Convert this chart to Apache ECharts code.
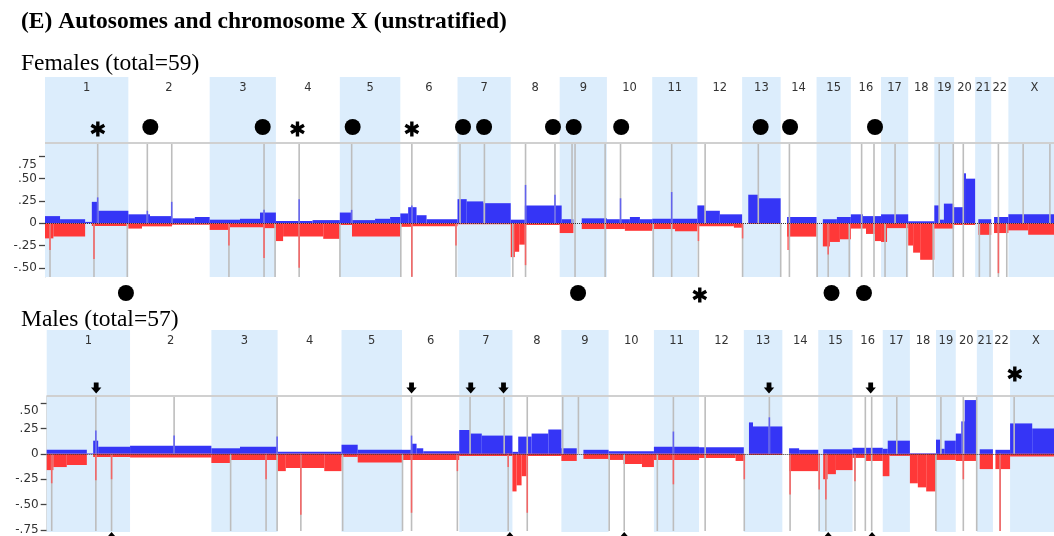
<!DOCTYPE html>
<html><head><meta charset="utf-8">
<script src="https://cdn.jsdelivr.net/npm/echarts@6/dist/echarts.min.js"></script>
<style>html,body{margin:0;padding:0;background:#fff}#c{width:1054px;height:536px}</style>
</head><body><div id="c"></div>
<script>
// ---------------- DATA ----------------
const chromNames = ['1','2','3','4','5','6','7','8','9','10','11','12','13','14','15','16','17','18','19','20','21','22','X'];
// chromosome lengths (Mb)
const chromLengths = [249.25,243.2,198.0,191.15,180.9,171.1,159.1,146.4,141.2,135.5,135.0,133.85,115.2,107.35,102.5,90.35,81.2,78.1,59.1,63.0,48.1,51.3,155.27];
const yTicksFemales = [-0.5,-0.25,0,0.25,0.5,0.75];
const yTicksMales = [-0.75,-0.5,-0.25,0,0.25,0.5];

// segments: [start Mb, end Mb, frequency]
const femaleGain = [
 [0,45,0.08],[45,120,0.045],[120,140,0.015],[140,159,0.24],[159,249.25,0.14],
 [249.25,314,0.10],[314,380,0.08],[380,448,0.055],[448,492.45,0.07],
 [492.45,583,0.04],[583,643,0.05],[643,690.45,0.12],
 [690.45,800,0.025],[800,881.6,0.035],
 [881.6,918,0.12],[918,987,0.035],[987,1032,0.05],[1032,1062.5,0.07],
 [1062.5,1086,0.11],[1086,1111,0.18],[1111,1141,0.09],[1141,1233.6,0.045],
 [1233.6,1261,0.27],[1261,1311,0.245],[1311,1392.7,0.225],
 [1392.7,1435,0.04],[1435,1545,0.2],
 [1545,1580,0.045],[1605,1680.3,0.055],
 [1680.3,1749,0.045],[1749,1779,0.07],[1779,1815.8,0.045],
 [1815.8,1950.8,0.05],
 [1950.8,1973,0.2],[1973,2018,0.14],[2018,2084.65,0.1],
 [2103,2133,0.32],[2133,2199.85,0.28],
 [2219,2307.2,0.07],
 [2326,2368,0.045],[2368,2409.7,0.07],
 [2409.7,2446,0.1],[2446,2500.05,0.08],
 [2500.05,2581.25,0.1],
 [2581.25,2659.35,0.022],
 [2659.35,2673,0.2],[2673,2688,0.04],[2688,2718.45,0.22],
 [2718.45,2745,0.18],[2745,2754,0.56],[2754,2781.45,0.5],
 [2791,2829.55,0.045],
 [2838,2880.85,0.07],
 [2880.85,3036.12,0.1]
];
const femaleLoss = [
 [0,25,-0.17],[25,120,-0.15],[140,249.25,-0.03],
 [249.25,290,-0.06],[290,380,-0.035],[380,492.45,-0.018],
 [492.45,553,-0.075],[553,655,-0.045],[655,690.45,-0.055],
 [690.45,712,-0.2],[712,832,-0.15],[832,881.6,-0.175],
 [881.6,918,-0.02],[918,1062.5,-0.15],
 [1062.5,1096,-0.04],[1096,1233.6,-0.035],
 [1233.6,1392.7,-0.012],
 [1392.7,1405,-0.38],[1405,1418,-0.32],[1418,1435,-0.24],[1435,1539.1,-0.02],
 [1539.1,1580,-0.11],[1605,1680.3,-0.065],
 [1680.3,1734,-0.065],[1734,1815.8,-0.085],
 [1815.8,1884,-0.065],[1884,1950.8,-0.09],
 [1950.8,2060,-0.035],[2060,2084.65,-0.05],
 [2103,2199.85,-0.008],
 [2219,2307.2,-0.15],
 [2326,2347,-0.26],[2347,2377,-0.21],[2377,2409.7,-0.18],
 [2409.7,2455,-0.06],[2455,2482,-0.12],[2482,2500.05,-0.2],
 [2500.05,2518,-0.21],[2518,2581.25,-0.055],
 [2581.25,2596,-0.25],[2596,2617,-0.33],[2617,2659.35,-0.41],
 [2659.35,2718.45,-0.06],
 [2718.45,2781.45,-0.02],
 [2791,2829.55,-0.13],
 [2838,2880.85,-0.11],
 [2880.85,2940,-0.08],[2940,3036.12,-0.13]
];
// single-locus peaks: [Mb, frequency]
const femaleGainPeaks = [[157.6,0.29],[306,0.14],[379,0.24],[655,0.15],[760,0.27],[917,0.15],[1097,0.2],[1437,0.43],[1525,0.32],[1721,0.28],[1874,0.35]];
const femaleLossPeaks = [[15,-0.3],[146.5,-0.4],[550,-0.25],[655,-0.39],[760,-0.5],[1097,-0.6],[1229,-0.25],[1437,-0.47],[1954,-0.2],[2086,-0.17],[2222,-0.3],[2342,-0.35],[2851,-0.56]];
// significant loci (grey guide lines)
const femaleLinesGain = [157.6,306,379,917,1241,1314,1525,1576,1721,1974,2133,2542,2674,2925,3005];
const femaleLinesLoss = [15,146.5,246,550,688,882,1064,1229,1399,1819,1954,2086,2200,2309,2342,2405,2512,2577,2656,2794,2826,2876];
const femaleLinesBoth = [655,760,1097,1437,1585,1675,1874,2226,2442,2479,2716,2746,2851];
const femaleDotsAbove = [315,651,920,1250,1313,1519,1581,1723,2140,2228,2482];
const femaleStarsAbove = [158,755,1097];
const femaleDotsBelow = [242,1594,2352,2449];
const femaleStarsBelow = [1958];

const maleGain = [
 [0,120,0.04],[120,139,0.005],[139,154,0.13],[154,249.25,0.07],
 [249.25,492.45,0.08],
 [492.45,578,0.055],[578,690.45,0.07],
 [690.45,881.6,0.02],
 [881.6,930,0.09],[930,1062.5,0.04],
 [1062.5,1090,0.04],[1090,1106,0.1],[1106,1126,0.055],[1126,1233.6,0.025],
 [1233.6,1266,0.235],[1266,1301,0.2],[1301,1392.7,0.18],
 [1392.7,1410,0.02],[1410,1450,0.17],[1450,1500,0.2],[1500,1539.1,0.24],
 [1539.1,1585,0.055],[1605,1680.3,0.04],
 [1680.3,1815.8,0.025],
 [1815.8,1950.8,0.07],
 [1950.8,2084.65,0.065],
 [2100,2112,0.31],[2112,2199.85,0.27],
 [2220,2250,0.055],[2250,2307.2,0.04],
 [2322,2409.7,0.045],
 [2409.7,2500.05,0.06],
 [2500.05,2515,0.05],[2515,2581.25,0.13],
 [2581.25,2659.35,0.006],
 [2659.35,2672,0.14],[2672,2685,0.05],[2685,2718.45,0.13],
 [2718.45,2735,0.2],[2735,2745,0.32],[2745,2781.45,0.53],
 [2790,2829.55,0.045],
 [2837,2880.85,0.04],
 [2880.85,2947,0.3],[2947,3036.12,0.25]
];
const maleLoss = [
 [0,20,-0.16],[20,60,-0.13],[60,120,-0.11],[139,249.25,-0.03],
 [249.25,492.45,-0.035],
 [492.45,548,-0.09],[548,690.45,-0.06],
 [690.45,715,-0.17],[715,830,-0.14],[830,881.6,-0.17],
 [881.6,930,-0.03],[930,1062.5,-0.085],
 [1062.5,1233.6,-0.06],
 [1233.6,1392.7,-0.02],
 [1392.7,1405,-0.37],[1405,1420,-0.31],[1420,1435,-0.22],[1435,1539.1,-0.02],
 [1539.1,1585,-0.07],[1605,1680.3,-0.05],
 [1680.3,1725,-0.06],[1725,1780,-0.1],[1780,1815.8,-0.13],
 [1815.8,1950.8,-0.06],
 [1950.8,2060,-0.04],[2060,2084.65,-0.07],
 [2100,2199.85,-0.01],
 [2220,2307.2,-0.17],
 [2322,2335,-0.25],[2335,2360,-0.2],[2360,2409.7,-0.16],
 [2409.7,2450,-0.04],[2450,2500.05,-0.07],
 [2500.05,2520,-0.22],[2520,2581.25,-0.02],
 [2581.25,2605,-0.29],[2605,2630,-0.33],[2630,2659.35,-0.37],
 [2659.35,2718.45,-0.06],
 [2718.45,2781.45,-0.07],
 [2790,2829.55,-0.15],
 [2837,2880.85,-0.15],
 [2880.85,3036.12,-0.025]
];
const maleGainPeaks = [[147,0.23],[381,0.18],[689,0.17],[1091,0.18],[1874,0.22],[2161,0.36]];
const maleLossPeaks = [[15,-0.29],[147,-0.26],[194,-0.25],[656,-0.25],[760,-0.6],[1091,-0.58],[1228,-0.17],[1380,-0.13],[1437,-0.58],[1874,-0.3],[2086,-0.25],[2223,-0.4],[2310,-0.35],[2330,-0.45],[2417,-0.27],[2741,-0.25],[2851,-0.76]];
const maleLinesGain = [381,1266,1368,1543,1590,2161,2542,2674,2893];
const maleLinesLoss = [15,194,550,656,760,885,1064,1228,1380,1682,1727,1826,2086,2223,2310,2330,2417,2659,2851];
const maleLinesBoth = [147,689,1091,1437,1874,1969,2448,2467,2741,2781];
const maleArrowsAbove = [148,1091,1268,1366,2160,2464];
const maleStarsAbove = [2895];
const maleArrowsBelow = [194,1385,1727,2337,2468];

// ---------------- BUILD ----------------
const BAND = '#dcedfc', BLUE = '#3535f6', RED = '#ff3838', GREY = '#bdbdbd';
const chromTable = []; let acc = 0;
chromLengths.forEach((len, i) => { chromTable.push([acc, acc + len, i]); acc += len; });
const GENOME = acc;
const PX_PER_MB = 0.33441;     // horizontal scale of the figure
const CANVAS_W = 1054;

const panels = [
 {left:45, bandTop:77, bandH:200, plotTop:143, plotH:134, yMin:-0.603, yMax:0.9, ticks:yTicksFemales, labelY:88, pad:17,
  gain:femaleGain, loss:femaleLoss, gp:femaleGainPeaks, lp:femaleLossPeaks,
  lg:femaleLinesGain, ll:femaleLinesLoss, lb:femaleLinesBoth,
  marks:[[femaleDotsAbove,'dot',127],[femaleStarsAbove,'star',129],[femaleDotsBelow,'dot',293],[femaleStarsBelow,'star',295]]},
 {left:46.7, bandTop:330, bandH:202, plotTop:396, plotH:136, yMin:-0.76, yMax:0.57, ticks:yTicksMales, labelY:341, pad:15,
  gain:maleGain, loss:maleLoss, gp:maleGainPeaks, lp:maleLossPeaks,
  lg:maleLinesGain, ll:maleLinesLoss, lb:maleLinesBoth,
  marks:[[maleArrowsAbove,'down',388],[maleStarsAbove,'star',374],[maleArrowsBelow,'up',537.5]]}
];

function fmt(top){ return v => {
  if (Math.abs(v) < 1e-9) return '0';
  const s = (v < 0 ? '-' : '') + Math.abs(v).toFixed(2).replace(/^0/, '');
  return Math.abs(v - top) < 1e-9 ? '{lo|' + s + '}' : s;
};}
function bandRender(labelY){ return (params, api) => {
  const s = api.value(0), e = api.value(1), i = api.value(2);
  const p0 = api.coord([s, 1]), p1 = api.coord([e, 0]);
  const ch = [];
  if (i % 2 === 0) ch.push({type:'rect', shape:{x:p0[0], y:p0[1], width:p1[0]-p0[0], height:p1[1]-p0[1]}, style:{fill:BAND}});
  ch.push({type:'text', style:{text:chromNames[i], x:(p0[0]+p1[0])/2, y:labelY, align:'center', verticalAlign:'middle', font:'11.5px "DejaVu Sans"', fill:'#333'}});
  return {type:'group', children:ch};
};}
function segRender(color){ return (params, api) => {
  const p0 = api.coord([api.value(0), api.value(2)]), p1 = api.coord([api.value(1), 0]);
  return {type:'rect', shape:{x:p0[0], y:Math.min(p0[1],p1[1]), width:p1[0]-p0[0], height:Math.abs(p1[1]-p0[1])}, style:{fill:color}};
};}
function peakRender(color){ return (params, api) => {
  const p0 = api.coord([api.value(0), 0]), p1 = api.coord([api.value(0), api.value(1)]);
  return {type:'line', shape:{x1:p0[0], y1:p0[1], x2:p1[0], y2:p1[1]}, style:{stroke:color, lineWidth:1.6}};
};}
function lineRender(y0, y1){ return (params, api) => {
  const p0 = api.coord([api.value(0), y0]), p1 = api.coord([api.value(0), y1]);
  return {type:'line', shape:{x1:p0[0], y1:p0[1], x2:p1[0], y2:p1[1]}, style:{stroke:GREY, lineWidth:1.6}};
};}
function markRender(kind, y){ return (params, api) => {
  const x = api.coord([api.value(0), 0])[0];
  if (kind === 'dot') return {type:'circle', shape:{cx:x, cy:y, r:8}, style:{fill:'#000'}};
  if (kind === 'star') {
    const r = 7.5, ch = [];
    [90, 30, -30].forEach(a => { const c = Math.cos(a*Math.PI/180)*r, s = Math.sin(a*Math.PI/180)*r;
      ch.push({type:'line', shape:{x1:x-c, y1:y-s, x2:x+c, y2:y+s}, style:{stroke:'#000', lineWidth:3.4}}); });
    return {type:'group', children:ch};
  }
  const d = kind === 'down' ? 1 : -1;
  return {type:'polygon', shape:{points:[[x-2.4,y-5.5*d],[x+2.4,y-5.5*d],[x+2.4,y-0.5*d],[x+5.2,y-0.5*d],[x,y+5.5*d],[x-5.2,y-0.5*d],[x-2.4,y-0.5*d]]}, style:{fill:'#000'}};
};}

const grid = [], xAxis = [], yAxis = [], series = [];
panels.forEach((p, k) => {
  const gb = 2*k, gd = 2*k + 1;
  const width = CANVAS_W - p.left;
  const xMax = width / PX_PER_MB;
  grid.push({left:p.left, top:p.bandTop, width:width, height:p.bandH});
  grid.push({left:p.left, top:p.plotTop, width:width, height:p.plotH});
  [gb, gd].forEach(g => xAxis.push({gridIndex:g, type:'value', min:0, max:xMax, show:false}));
  yAxis.push({gridIndex:gb, type:'value', min:0, max:1, show:false});
  const top = p.ticks[p.ticks.length - 1];
  yAxis.push({gridIndex:gd, type:'value', min:p.yMin, max:p.yMax, splitLine:{show:false},
    axisLine:{show:true, lineStyle:{color:'#d4d4d4', width:1}},
    axisTick:{show:true, customValues:p.ticks, length:6, lineStyle:{color:'#444', width:1.3}},
    axisLabel:{customValues:p.ticks, margin:8, fontFamily:'DejaVu Sans', fontSize:12, color:'#333', formatter:fmt(top),
      rich:{lo:{padding:[p.pad,0,0,0], fontFamily:'DejaVu Sans', fontSize:12, color:'#333'}}}});
  series.push({type:'custom', xAxisIndex:gb, yAxisIndex:gb, z:1, silent:true, data:chromTable, renderItem:bandRender(p.labelY)});
  series.push({type:'custom', xAxisIndex:gd, yAxisIndex:gd, z:2, silent:true, data:p.gain, renderItem:segRender(BLUE),
    markLine:{silent:true, symbol:'none', label:{show:false}, animation:false,
      data:[{yAxis:0, lineStyle:{type:'dotted', color:'#333', width:1}}, {yAxis:p.yMax, lineStyle:{type:'solid', color:'#d0d0d0', width:2}}]}});
  series.push({type:'custom', xAxisIndex:gd, yAxisIndex:gd, z:2, silent:true, data:p.loss, renderItem:segRender(RED)});
  series.push({type:'custom', xAxisIndex:gd, yAxisIndex:gd, z:3, silent:true, data:p.lg.map(v=>[v]), renderItem:lineRender(p.yMax, 0)});
  series.push({type:'custom', xAxisIndex:gd, yAxisIndex:gd, z:3, silent:true, data:p.ll.map(v=>[v]), renderItem:lineRender(0, p.yMin)});
  series.push({type:'custom', xAxisIndex:gd, yAxisIndex:gd, z:3, silent:true, data:p.lb.map(v=>[v]), renderItem:lineRender(p.yMax, p.yMin)});
  series.push({type:'custom', xAxisIndex:gd, yAxisIndex:gd, z:4, silent:true, data:p.gp, renderItem:peakRender('rgba(70,70,255,0.75)')});
  series.push({type:'custom', xAxisIndex:gd, yAxisIndex:gd, z:4, silent:true, data:p.lp, renderItem:peakRender('rgba(255,80,80,0.8)')});
  p.marks.forEach(m => series.push({type:'custom', xAxisIndex:gb, yAxisIndex:gb, z:5, silent:true, clip:false,
    data:m[0].map(v=>[v]), renderItem:markRender(m[1], m[2])}));
});

const chart = echarts.init(document.getElementById('c'), null, {renderer:'canvas'});
chart.setOption({
  animation:false, backgroundColor:'#fff', grid, xAxis, yAxis, series,
  graphic:[
    {type:'text', left:21, top:10, style:{text:'(E) Autosomes and chromosome X (unstratified)', font:'bold 23.5px "Liberation Serif"', fill:'#000'}},
    {type:'text', left:21, top:51.5, style:{text:'Females (total=59)', font:'23.5px "Liberation Serif"', fill:'#000'}},
    {type:'text', left:21, top:307.5, style:{text:'Males (total=57)', font:'23.5px "Liberation Serif"', fill:'#000'}}
  ]
});
</script></body></html>
